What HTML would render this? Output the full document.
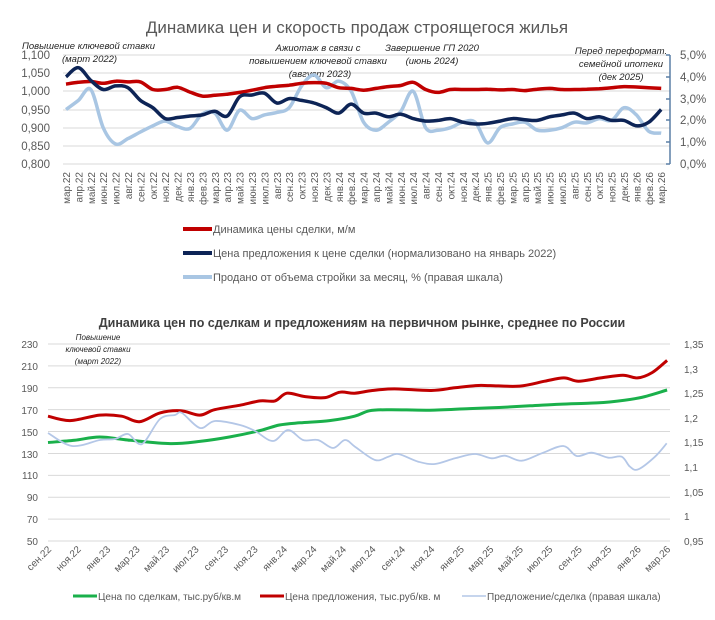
<!DOCTYPE html>
<html><head><meta charset="utf-8"><style>
body{margin:0;background:#fff;width:715px;height:615px;overflow:hidden}
svg{font-family:"Liberation Sans",sans-serif}
.ax{fill:#595959;font-size:11.5px}
.axs{fill:#595959;font-size:10px}
.an{fill:#262626;font-size:9.5px;font-style:italic}
.an2{fill:#262626;font-size:8px;font-style:italic}
.lg{fill:#595959;font-size:11px}
.lg2{fill:#595959;font-size:10px}
</style></head><body>
<svg id="s" width="715" height="615" viewBox="0 0 715 615">
<text x="357" y="33" text-anchor="middle" font-size="17" fill="#595959">Динамика цен и скорость продаж строящегося жилья</text>
<g stroke="#d9d9d9" stroke-width="1">
<line x1="63" x2="670" y1="55" y2="55"/><line x1="63" x2="670" y1="73" y2="73"/><line x1="63" x2="670" y1="91" y2="91"/><line x1="63" x2="670" y1="110" y2="110"/><line x1="63" x2="670" y1="128" y2="128"/><line x1="63" x2="670" y1="146" y2="146"/><line x1="63" x2="670" y1="164" y2="164"/>
</g>
<g class="ax" text-anchor="end">
<text x="50" y="59">1,100</text><text x="50" y="77">1,050</text><text x="50" y="95">1,000</text><text x="50" y="114">0,950</text><text x="50" y="132">0,900</text><text x="50" y="150">0,850</text><text x="50" y="168">0,800</text>
</g>
<g stroke="#5b7fa6" stroke-width="1.5"><line x1="670" x2="670" y1="55" y2="164"/>
<line x1="666" x2="670" y1="55" y2="55"/><line x1="666" x2="670" y1="77" y2="77"/><line x1="666" x2="670" y1="99" y2="99"/><line x1="666" x2="670" y1="120" y2="120"/><line x1="666" x2="670" y1="142" y2="142"/><line x1="666" x2="670" y1="164" y2="164"/></g>
<g class="ax" font-size="11">
<text x="680" y="59">5,0%</text><text x="680" y="81">4,0%</text><text x="680" y="103">3,0%</text><text x="680" y="124">2,0%</text><text x="680" y="146">1,0%</text><text x="680" y="168">0,0%</text>
</g>
<g class="axs" text-anchor="end" id="tl">
<text transform="translate(70,172) rotate(-90)">мар.22</text><text transform="translate(82.4,172) rotate(-90)">апр.22</text><text transform="translate(94.8,172) rotate(-90)">май.22</text><text transform="translate(107.2,172) rotate(-90)">июн.22</text><text transform="translate(119.6,172) rotate(-90)">июл.22</text><text transform="translate(132,172) rotate(-90)">авг.22</text><text transform="translate(144.4,172) rotate(-90)">сен.22</text><text transform="translate(156.8,172) rotate(-90)">окт.22</text><text transform="translate(169.2,172) rotate(-90)">ноя.22</text><text transform="translate(181.6,172) rotate(-90)">дек.22</text><text transform="translate(194,172) rotate(-90)">янв.23</text><text transform="translate(206.4,172) rotate(-90)">фев.23</text><text transform="translate(218.8,172) rotate(-90)">мар.23</text><text transform="translate(231.2,172) rotate(-90)">апр.23</text><text transform="translate(243.6,172) rotate(-90)">май.23</text><text transform="translate(256,172) rotate(-90)">июн.23</text><text transform="translate(268.4,172) rotate(-90)">июл.23</text><text transform="translate(280.8,172) rotate(-90)">авг.23</text><text transform="translate(293.2,172) rotate(-90)">сен.23</text><text transform="translate(305.6,172) rotate(-90)">окт.23</text><text transform="translate(318,172) rotate(-90)">ноя.23</text><text transform="translate(330.4,172) rotate(-90)">дек.23</text><text transform="translate(342.8,172) rotate(-90)">янв.24</text><text transform="translate(355.2,172) rotate(-90)">фев.24</text><text transform="translate(367.6,172) rotate(-90)">мар.24</text><text transform="translate(380,172) rotate(-90)">апр.24</text><text transform="translate(392.4,172) rotate(-90)">май.24</text><text transform="translate(404.8,172) rotate(-90)">июн.24</text><text transform="translate(417.2,172) rotate(-90)">июл.24</text><text transform="translate(429.6,172) rotate(-90)">авг.24</text><text transform="translate(442,172) rotate(-90)">сен.24</text><text transform="translate(454.4,172) rotate(-90)">окт.24</text><text transform="translate(466.8,172) rotate(-90)">ноя.24</text><text transform="translate(479.2,172) rotate(-90)">дек.24</text><text transform="translate(491.6,172) rotate(-90)">янв.25</text><text transform="translate(504,172) rotate(-90)">фев.25</text><text transform="translate(516.4,172) rotate(-90)">мар.25</text><text transform="translate(528.8,172) rotate(-90)">апр.25</text><text transform="translate(541.2,172) rotate(-90)">май.25</text><text transform="translate(553.6,172) rotate(-90)">июн.25</text><text transform="translate(566,172) rotate(-90)">июл.25</text><text transform="translate(578.4,172) rotate(-90)">авг.25</text><text transform="translate(590.8,172) rotate(-90)">сен.25</text><text transform="translate(603.2,172) rotate(-90)">окт.25</text><text transform="translate(615.6,172) rotate(-90)">ноя.25</text><text transform="translate(628,172) rotate(-90)">дек.25</text><text transform="translate(640.4,172) rotate(-90)">янв.26</text><text transform="translate(652.8,172) rotate(-90)">фев.26</text><text transform="translate(665.2,172) rotate(-90)">мар.26</text>
</g>
<g class="an">
<text x="22" y="49">Повышение ключевой ставки</text><text x="62" y="62">(март 2022)</text>
<text x="318" y="51" text-anchor="middle">Ажиотаж в связи с</text><text x="318" y="64" text-anchor="middle">повышением ключевой ставки</text><text x="320" y="77" text-anchor="middle">(август 2023)</text>
<text x="432" y="51" text-anchor="middle">Завершение ГП 2020</text><text x="432" y="64" text-anchor="middle">(июнь 2024)</text>
<text x="621" y="54" text-anchor="middle">Перед переформат.</text><text x="621" y="67" text-anchor="middle">семейной ипотеки</text><text x="621" y="80" text-anchor="middle">(дек 2025)</text>
</g>
<g stroke-width="4"><line x1="183" x2="212" y1="229" y2="229" stroke="#c00000"/><line x1="183" x2="212" y1="253" y2="253" stroke="#0d2456"/><line x1="183" x2="212" y1="277" y2="277" stroke="#a9c6e3"/></g>
<g class="lg"><text x="213" y="233">Динамика цены сделки, м/м</text><text x="213" y="257">Цена предложения к цене сделки (нормализовано на январь 2022)</text><text x="213" y="281">Продано от объема стройки за месяц, % (правая шкала)</text></g>

<text x="362" y="327" text-anchor="middle" font-size="12.5" font-weight="bold" fill="#404040">Динамика цен по сделкам и предложениям на первичном рынке, среднее по России</text>
<g stroke="#d9d9d9" stroke-width="1" id="bg"></g>
<g class="axs" font-size="10.5" text-anchor="end">
<text x="38" y="348">230</text><text x="38" y="370">210</text><text x="38" y="392">190</text><text x="38" y="414">170</text><text x="38" y="436">150</text><text x="38" y="458">130</text><text x="38" y="479">110</text><text x="38" y="501">90</text><text x="38" y="523">70</text><text x="38" y="545">50</text>
</g>
<g class="axs" font-size="10">
<text x="684" y="348">1,35</text><text x="684" y="373">1,3</text><text x="684" y="397">1,25</text><text x="684" y="422">1,2</text><text x="684" y="446">1,15</text><text x="684" y="471">1,1</text><text x="684" y="496">1,05</text><text x="684" y="520">1</text><text x="684" y="545">0,95</text>
</g>
<g class="axs" font-size="9.5" text-anchor="end">
<text transform="translate(52,550) rotate(-45)">сен.22</text><text transform="translate(81.5,550) rotate(-45)">ноя.22</text><text transform="translate(111,550) rotate(-45)">янв.23</text><text transform="translate(140.4,550) rotate(-45)">мар.23</text><text transform="translate(169.9,550) rotate(-45)">май.23</text><text transform="translate(199.4,550) rotate(-45)">июл.23</text><text transform="translate(228.9,550) rotate(-45)">сен.23</text><text transform="translate(258.4,550) rotate(-45)">ноя.23</text><text transform="translate(287.8,550) rotate(-45)">янв.24</text><text transform="translate(317.3,550) rotate(-45)">мар.24</text><text transform="translate(346.8,550) rotate(-45)">май.24</text><text transform="translate(376.3,550) rotate(-45)">июл.24</text><text transform="translate(405.8,550) rotate(-45)">сен.24</text><text transform="translate(435.2,550) rotate(-45)">ноя.24</text><text transform="translate(464.7,550) rotate(-45)">янв.25</text><text transform="translate(494.2,550) rotate(-45)">мар.25</text><text transform="translate(523.7,550) rotate(-45)">май.25</text><text transform="translate(553.2,550) rotate(-45)">июл.25</text><text transform="translate(582.6,550) rotate(-45)">сен.25</text><text transform="translate(612.1,550) rotate(-45)">ноя.25</text><text transform="translate(641.6,550) rotate(-45)">янв.26</text><text transform="translate(671.1,550) rotate(-45)">мар.26</text>
</g>
<g class="an2" text-anchor="middle"><text x="98" y="340">Повышение</text><text x="98" y="352">ключевой ставки</text><text x="98" y="364">(март 2022)</text></g>
<g><line x1="73" x2="97" y1="596" y2="596" stroke="#1ab04b" stroke-width="3"/><line x1="260" x2="284" y1="596" y2="596" stroke="#c00000" stroke-width="3"/><line x1="462" x2="486" y1="596" y2="596" stroke="#b4c7e7" stroke-width="1.5"/></g>
<g class="lg2"><text x="98" y="600">Цена по сделкам, тыс.руб/кв.м</text><text x="285" y="600">Цена предложения, тыс.руб/кв. м</text><text x="487" y="600">Предложение/сделка (правая шкала)</text></g>
<g id="lines"></g>
</svg>
<script>
var NS="http://www.w3.org/2000/svg";
function cr(p){var d="M"+p[0][0].toFixed(1)+","+p[0][1].toFixed(1);for(var i=0;i<p.length-1;i++){var p0=p[i-1]||p[i],p1=p[i],p2=p[i+1],p3=p[i+2]||p2;d+=" C"+(p1[0]+(p2[0]-p0[0])/6).toFixed(1)+","+(p1[1]+(p2[1]-p0[1])/6).toFixed(1)+" "+(p2[0]-(p3[0]-p1[0])/6).toFixed(1)+","+(p2[1]-(p3[1]-p1[1])/6).toFixed(1)+" "+p2[0].toFixed(1)+","+p2[1].toFixed(1);}return d;}
function add(g,d,c,w){var e=document.createElementNS(NS,"path");e.setAttribute("d",d);e.setAttribute("fill","none");e.setAttribute("stroke",c);e.setAttribute("stroke-width",w);e.setAttribute("stroke-linejoin","round");g.appendChild(e);}
var L=document.getElementById("lines"),bg=document.getElementById("bg");
for(var k=0;k<10;k++){var ln=document.createElementNS(NS,"line");var y=344+k*21.89;ln.setAttribute("x1",48);ln.setAttribute("x2",670);ln.setAttribute("y1",y);ln.setAttribute("y2",y);bg.appendChild(ln);}
function ty(v){return 164-(v-0.8)/0.3*109;}
function tp(a){return a.map(function(v,i){return [66+12.4*i,ty(v)];});}
var lb=[.950,.975,1.005,.900,.855,.870,.888,.905,.918,.903,.898,.938,.940,.893,.948,.925,.935,.942,.955,1.015,1.045,1.010,1.028,1.000,.915,.893,.915,.945,1.000,.900,.893,.900,.915,.915,.858,.900,.910,.915,.893,.893,.900,.915,.913,.925,.920,.955,.935,.890,.885];
var rd=[1.020,1.025,1.027,1.022,1.028,1.026,1.026,1.005,1.005,1.011,.998,.987,.989,.992,.997,1.003,1.010,1.014,1.017,1.022,1.024,1.022,1.010,1.008,1.003,1.008,1.013,1.016,1.025,1.005,.997,1.005,1.005,1.005,1.006,1.004,1.005,1.002,1.006,1.008,1.005,1.005,1.006,1.007,1.010,1.013,1.012,1.010,1.008];
var nv=[1.040,1.065,1.030,1.005,1.015,1.010,.975,.955,.925,.928,.932,.935,.945,.932,.985,.990,.995,.968,.980,.975,.968,.955,.940,.965,.940,.940,.930,.937,.925,.918,.920,.925,.915,.910,.912,.918,.925,.922,.920,.930,.935,.940,.925,.930,.920,.920,.905,.915,.950];
add(L,cr(tp(lb)),"#a9c6e3",3.5);add(L,cr(tp(rd)),"#c00000",3.5);add(L,cr(tp(nv)),"#0d2456",3.5);
function by(v){return 344+(230-v)*1.0944;}
function bx(i){return 48+14.74*i;}
var rpts=[[0,164],[1.5,160],[3.5,165],[5,164],[6.2,159],[7.6,167],[9,169],[10.3,165],[11.3,170],[13,174],[14.4,178],[15.4,178],[16.2,185],[17.4,182],[18.8,181],[19.8,186],[20.8,185],[22,187.5],[23.5,189],[26,187.5],[27.6,190],[29,192],[30,192],[32,191.5],[33.7,196],[35,199],[36,196],[37.5,199],[39,201.5],[40,199],[41,204],[42,215]];
var gpts=[[0,140],[1.8,142],[3.5,145],[5.6,142],[8.3,139],[10.3,141],[12.3,145],[14.4,151],[15.7,156],[17.1,158],[19.1,160],[20.8,164],[21.8,169],[23.2,170],[25.9,169.5],[28.6,171],[30.6,172],[32.7,173.5],[34.7,175],[36.8,176],[38.1,177],[40.2,181],[42,188]];
add(L,cr(gpts.map(function(p){return [bx(p[0]),by(p[1])];})),"#1ab04b",3);
add(L,cr(rpts.map(function(p){return [bx(p[0]),by(p[1])];})),"#c00000",3);
var b1=[[48,433],[72,446],[100,440],[115,439],[128,434],[142,444],[160,419],[175,415],[182,413],[200,428],[215,421],[240,425],[255,431],[273,441],[288,430],[303,440],[318,440],[333,448],[345,440]];
var b2=[[0,410],[60,450],[100,440],[130,432],[190,455],[240,462],[300,445],[360,432],[410,445],[450,437],[500,452],[560,430],[625,408],[665,438],[710,428],[760,443],[800,440],[825,470],[850,478],[900,440],[935,400]].map(function(p){return [355+p[0]/3,310+p[1]/3];});
add(L,cr(b1.concat(b2)),"#b4c7e7",1.8);
</script>
</body></html>
